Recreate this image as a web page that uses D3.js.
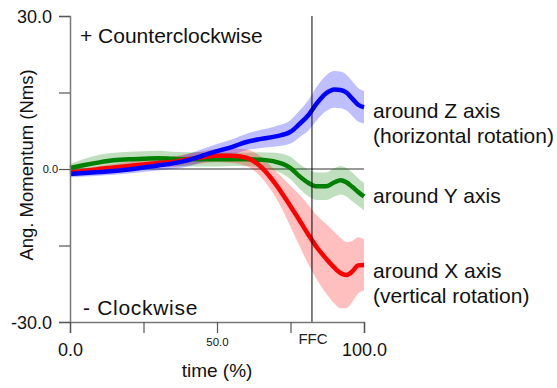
<!DOCTYPE html>
<html><head><meta charset="utf-8">
<script src="https://cdn.jsdelivr.net/npm/d3@7"></script>
<style>body{margin:0;background:#fff}svg{display:block}text{font-family:"Liberation Sans",Arial,sans-serif}</style>
</head><body><svg id="c" width="557" height="388"></svg>
<script>
const time = [0,5,10,15,20,25,30,35,40,45,50,55,60,65,70,75,78,81,84,87,90,92,94,96,98,100];
const zMean = [-1.0,-0.8,-0.6,-0.4,-0.1,0.3,0.7,1.1,1.7,2.6,3.5,4.3,5.3,5.9,6.4,7.3,8.8,10.5,12.9,14.8,15.6,15.5,15.0,13.8,12.6,12.1];
const zSd   = [0.6,0.65,0.7,0.75,0.8,0.9,1.0,1.1,1.2,1.3,1.4,1.5,1.6,1.8,2.0,2.3,2.6,3.0,3.3,3.5,3.6,3.6,3.5,3.4,3.3,3.2];
const yMean = [0.2,0.8,1.3,1.7,1.9,2.0,2.1,2.0,1.9,1.9,1.9,1.9,1.9,1.8,1.4,0.2,-1.4,-2.7,-3.4,-3.4,-2.6,-2.2,-2.6,-3.5,-4.5,-5.4];
const ySd   = [0.8,1.2,1.5,1.5,1.5,1.5,1.5,1.4,1.4,1.4,1.4,1.3,1.3,1.5,1.8,2.2,2.4,2.6,2.7,2.7,2.8,2.8,2.8,2.8,2.7,2.7];
const xMean = [-0.7,-0.4,0.0,0.3,0.6,0.9,1.2,1.4,1.9,2.3,2.6,2.6,2.2,0.4,-3.0,-7.3,-10.0,-12.8,-15.4,-17.5,-19.4,-20.4,-20.8,-20.1,-18.9,-18.8];
const xSd   = [0.5,0.6,0.6,0.7,0.8,0.9,0.9,1.0,1.1,1.2,1.3,1.4,1.6,2.0,2.6,4.0,5.0,5.8,6.3,6.8,7.0,6.9,6.5,6.0,5.5,5.0];
const seriesNames = ["around Z axis","around Y axis","around X axis"];
const yTicks = [-30,-15,0,15,30];
const yTickLabels = {"30":"30.0","0":"0.0","-30":"-30.0"};
const xTicks = [0,25,50,75,100];
const xTickLabels = {"0":"0.0","50":"50.0","100":"100.0"};
const ffc = 82.3;

const svg = d3.select("#c");
const x = d3.scaleLinear().domain([0,100]).range([70,364]);
const y = d3.scaleLinear().domain([-30,30]).range([322,16]);

const series = [
  {mean:yMean, sd:ySd, line:"#008000", band:"rgba(0,128,0,0.25)"},
  {mean:xMean, sd:xSd, line:"#ff0000", band:"rgba(255,0,0,0.25)"},
  {mean:zMean, sd:zSd, line:"#0000ff", band:"rgba(0,0,255,0.25)"}
];
const area = d3.area().curve(d3.curveMonotoneX).x(d=>x(d.t)).y0(d=>y(d.m-d.s)).y1(d=>y(d.m+d.s));
const line = d3.line().curve(d3.curveMonotoneX).x(d=>x(d.t)).y(d=>y(d.m));
series.forEach(s=>{ s.pts = time.map((t,i)=>({t, m:s.mean[i], s:s.sd[i]})); });

// zero line
svg.append("line").attr("x1",x(0)).attr("x2",x(100)).attr("y1",y(0)).attr("y2",y(0)).attr("stroke","#777").attr("stroke-width",1.5);

series.forEach(s=>svg.append("path").datum(s.pts).attr("d",area).attr("fill",s.band));
series.forEach(s=>svg.append("path").datum(s.pts).attr("d",line).attr("fill","none").attr("stroke",s.line).attr("stroke-width",4.5));

// FFC line
svg.append("line").attr("x1",x(ffc)).attr("x2",x(ffc)).attr("y1",y(30)).attr("y2",y(-30)).attr("stroke","#000").attr("stroke-width",1);

// axes
const ya = svg.append("g").attr("transform",`translate(${x(0)},0)`)
  .call(d3.axisLeft(y).tickValues(yTicks).tickSize(11).tickFormat(d=>yTickLabels[d]||""));
const xa = svg.append("g").attr("transform",`translate(0,${y(-30)})`)
  .call(d3.axisBottom(x).tickValues(xTicks).tickSize(11).tickFormat(d=>xTickLabels[d]||""));
[ya,xa].forEach(g=>{
  g.select(".domain").attr("stroke","#777").attr("stroke-width",1.5);
  g.selectAll(".tick line").attr("stroke","#555").attr("stroke-width",1.2);
  g.selectAll(".tick text").attr("fill","#111");
});
ya.selectAll(".tick text").attr("font-size",d=>d===0?11:18).attr("dy","0.35em").attr("x",d=>d===0?-12:-18);
xa.selectAll(".tick text").attr("font-size",d=>d===50?11.5:18).attr("dy",0).attr("y",d=>d===50?24:34);
xa.append("text").attr("x",x(ffc)+1).attr("y",22).attr("fill","#222").attr("font-size",15).attr("text-anchor","middle").text("FFC");

// axis titles
svg.append("text").attr("transform",`translate(33,165) rotate(-90)`).attr("text-anchor","middle").attr("font-size",18.5).attr("fill","#111").text("Ang. Momentum (Nms)");
svg.append("text").attr("x",x(50)).attr("y",377).attr("text-anchor","middle").attr("font-size",19).attr("fill","#111").text("time (%)");

// annotations
svg.append("text").attr("x",80).attr("y",43).attr("font-size",21).attr("fill","#111").text("+ Counterclockwise");
svg.append("text").attr("x",83).attr("y",315).attr("font-size",21).attr("letter-spacing",0.7).attr("fill","#111").text("- Clockwise");

// series labels
const lab = [[seriesNames[0],118],["(horizontal rotation)",143],[seriesNames[1],203],[seriesNames[2],278],["(vertical rotation)",303]];
lab.forEach(([t,yy])=>svg.append("text").attr("x",373).attr("y",yy).attr("font-size",21).attr("fill","#111").text(t));
</script></body></html>
